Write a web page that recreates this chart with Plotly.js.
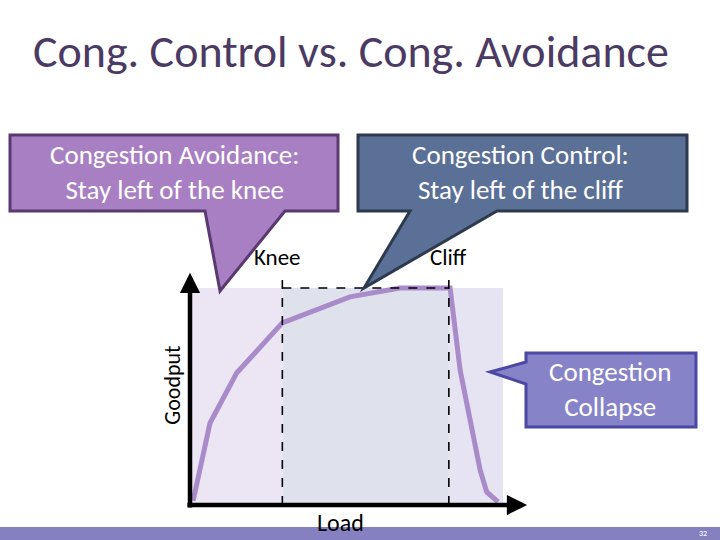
<!DOCTYPE html>
<html>
<head>
<meta charset="utf-8">
<script src="https://cdn.plot.ly/plotly-3.0.1.min.js"></script>
<style>html,body{margin:0;padding:0;background:#fff;}#chart{width:720px;height:540px;}</style>
</head>
<body>
<div id="chart"></div>
<script>
// ---- data ----
var load    = [1, 6.4, 14.9, 29.5, 51.1, 67.1, 83.1, 86.3, 92.7, 94.8, 98.4];
var goodput = [2, 37.8, 60.8, 83.9, 95.9, 100, 100, 62.2, 16.1, 6, 1.4];
var kneeLoad = 29.5;
var cliffLoad = 82.7;
var maxLoad = 100;
var maxGoodput = 100;
var pointLabels = ["Knee", "Cliff"];
var axisTitles = ["Load", "Goodput"];
var slideTitle = "Cong. Control vs. Cong. Avoidance";
var calloutTexts = ["Congestion Avoidance:<br>Stay left of the knee",
                    "Congestion Control:<br>Stay left of the cliff",
                    "Congestion<br>Collapse"];
var pageNumber = "32";

// ---- layout helpers (pixel -> paper) ----
var W = 720, H = 540;
function px(x){ return x / W; }
function py(y){ return 1 - y / H; }
function path(pts){
  return 'M' + pts.map(function(p){ return px(p[0]).toFixed(5) + ',' + py(p[1]).toFixed(5); }).join(' L') + ' Z';
}
var FONT = "Carlito, Lato, 'Open Sans', sans-serif";

// x: 0 -> 190px, 100 -> 503px ; y: 0 -> 505px, 100 -> 288px
var xPerUnit = (503 - 190) / 100, yPerUnit = (505 - 288) / 100;
var xMax = 110, yMax = 115;
var xDomain = [190 / W, (190 + xMax * xPerUnit) / W];
var yDomain = [(H - 505) / H, (H - (505 - yMax * yPerUnit)) / H];

var shapes = [
  // background regions
  {type:'rect', xref:'x', yref:'y', x0:0, x1:kneeLoad, y0:0, y1:maxGoodput, fillcolor:'#ece5f3', line:{width:0}, layer:'below'},
  {type:'rect', xref:'x', yref:'y', x0:kneeLoad, x1:cliffLoad, y0:0, y1:maxGoodput, fillcolor:'#dfe2ec', line:{width:0}, layer:'below'},
  {type:'rect', xref:'x', yref:'y', x0:cliffLoad, x1:maxLoad, y0:0, y1:maxGoodput, fillcolor:'#e6e4f3', line:{width:0}, layer:'below'},
  // dashed guides
  {type:'line', xref:'x', yref:'y', x0:kneeLoad, x1:kneeLoad, y0:0, y1:107, line:{color:'#000', width:1.6, dash:'dash'}},
  {type:'line', xref:'x', yref:'y', x0:cliffLoad, x1:cliffLoad, y0:0, y1:107, line:{color:'#000', width:1.6, dash:'dash'}},
  {type:'line', xref:'x', yref:'y', x0:kneeLoad, x1:cliffLoad, y0:maxGoodput, y1:maxGoodput, line:{color:'#000', width:1.6, dash:'dash'}},
  // callouts
  {type:'path', xref:'paper', yref:'paper', path:path([[10,135],[338,135],[338,211],[285,211],[220,291],[205,211],[10,211]]),
   fillcolor:'#a97fc4', line:{color:'#5a3870', width:3}},
  {type:'path', xref:'paper', yref:'paper', path:path([[358,135],[687,135],[687,211],[497,211],[364,288],[410,211],[358,211]]),
   fillcolor:'#5b7097', line:{color:'#2d3a4d', width:3}},
  {type:'path', xref:'paper', yref:'paper', path:path([[526,353],[696,353],[696,427],[526,427],[526,384],[490,372],[526,362]]),
   fillcolor:'#8783c9', line:{color:'#4b48a3', width:3}},
  // bottom bar
  {type:'rect', xref:'paper', yref:'paper', x0:0, x1:1, y0:0, y1:py(527), fillcolor:'#8580c0', line:{width:0}}
];

function A(o){ o.xanchor = o.xanchor || 'center'; o.yanchor = o.yanchor || 'middle'; return o; }

var annotations = [
  A({xref:'paper', yref:'paper', x:px(31), y:py(51), xanchor:'left', showarrow:false,
   text:slideTitle, font:{family:FONT, size:46, weight:300, color:'#4b3a63'}}),
  A({xref:'paper', yref:'paper', x:px(174), y:py(172), showarrow:false, text:calloutTexts[0],
   font:{family:FONT, size:27, color:'#fff'}}),
  A({xref:'paper', yref:'paper', x:px(520), y:py(172), showarrow:false, text:calloutTexts[1],
   font:{family:FONT, size:27, color:'#fff'}}),
  A({xref:'paper', yref:'paper', x:px(610), y:py(389), showarrow:false, text:calloutTexts[2],
   font:{family:FONT, size:27, color:'#fff'}}),
  A({xref:'x', yref:'y', x:kneeLoad - 1.5, y:114.5, showarrow:false, text:pointLabels[0],
   font:{family:FONT, size:23, color:'#000'}}),
  A({xref:'x', yref:'y', x:cliffLoad, y:114.5, showarrow:false, text:pointLabels[1],
   font:{family:FONT, size:23, color:'#000'}}),
  A({xref:'x', yref:'paper', x:48, y:py(522), showarrow:false, text:axisTitles[0],
   font:{family:FONT, size:24, color:'#000'}}),
  A({xref:'paper', yref:'y', x:px(173), y:55, showarrow:false, text:axisTitles[1], textangle:-90,
   font:{family:FONT, size:22, color:'#000'}}),
  // axis arrows
  {xref:'x', yref:'y', axref:'x', ayref:'y', x:107.7, y:0, ax:-1.3, ay:0, text:'', showarrow:true,
   arrowhead:2, arrowsize:0.9, arrowwidth:4.5, arrowcolor:'#000', standoff:0, startstandoff:0},
  {xref:'x', yref:'y', axref:'x', ayref:'y', x:0, y:107, ax:0, ay:-1.8, text:'', showarrow:true,
   arrowhead:2, arrowsize:0.9, arrowwidth:4.5, arrowcolor:'#000', standoff:0, startstandoff:0},
  A({xref:'paper', yref:'paper', x:px(703), y:py(533), showarrow:false, text:pageNumber,
   font:{family:FONT, size:8, color:'#fff'}})
];

var trace = {
  x: load, y: goodput, type:'scatter', mode:'lines',
  line:{color:'#a98bc9', width:5}, hoverinfo:'skip', cliponaxis:false
};

var layout = {
  width:W, height:H,
  margin:{l:0, r:0, t:0, b:0},
  paper_bgcolor:'#ffffff', plot_bgcolor:'rgba(0,0,0,0)',
  showlegend:false,
  xaxis:{domain:xDomain, range:[0, xMax], visible:false, fixedrange:true},
  yaxis:{domain:yDomain, range:[0, yMax], visible:false, fixedrange:true},
  shapes:shapes,
  annotations:annotations
};

Plotly.newPlot('chart', [trace], layout, {staticPlot:true, displayModeBar:false});
</script>
</body>
</html>
